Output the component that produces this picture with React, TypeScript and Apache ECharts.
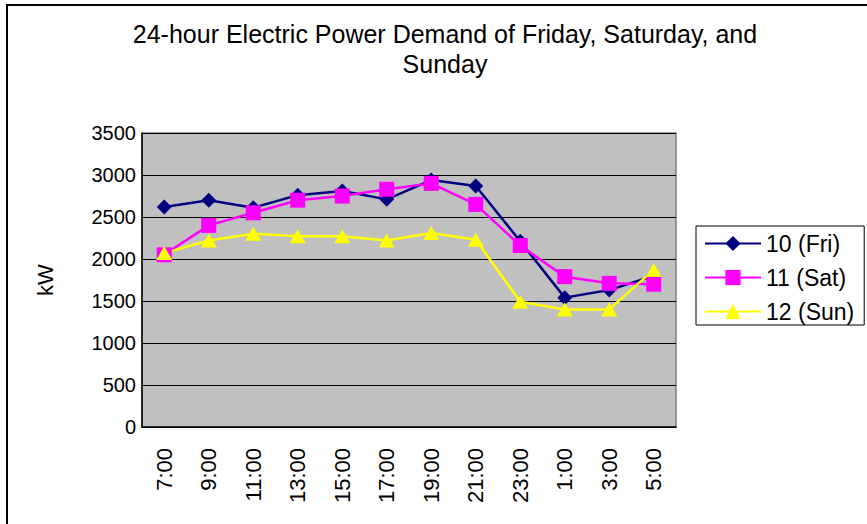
import React, { useEffect, useRef } from "react";
import * as echarts from "echarts";

const categories = ["7:00", "9:00", "11:00", "13:00", "15:00", "17:00", "19:00", "21:00", "23:00", "1:00", "3:00", "5:00"];
const friValues = [2620, 2700, 2610, 2760, 2810, 2710, 2940, 2870, 2210, 1540, 1630, 1800];
const satValues = [2050, 2400, 2550, 2700, 2750, 2830, 2900, 2650, 2160, 1790, 1710, 1700];
const sunValues = [2070, 2220, 2300, 2270, 2270, 2220, 2310, 2230, 1490, 1400, 1400, 1870];
const seriesNames = ["10 (Fri)", "11 (Sat)", "12 (Sun)"];

const FONT = "Liberation Sans, Arial, sans-serif";

export default function App() {
  const ref = useRef<HTMLDivElement>(null);
  useEffect(() => {
    document.body.style.margin = "0";
    const chart = echarts.init(ref.current!, null, { renderer: "svg" });
    chart.setOption({
      animation: false,
      backgroundColor: "#ffffff",
      title: {
        text: "24-hour Electric Power Demand of Friday, Saturday, and\nSunday",
        left: 440,
        top: 14,
        textAlign: "center",
        textStyle: { fontFamily: FONT, fontSize: 25, fontWeight: "normal", color: "#000", lineHeight: 30 },
      },
      graphic: [
        {
          type: "rect",
          shape: { x: 7, y: 5, width: 900, height: 600 },
          style: { fill: "none", stroke: "#000", lineWidth: 2 },
          z: 100,
        },
      ],
      legend: {
        orient: "vertical",
        left: 696,
        top: 226,
        width: 170,
        itemWidth: 56,
        itemHeight: 19,
        itemGap: 11,
        padding: [6, 10, 2, 8],
        borderColor: "#000",
        borderWidth: 1,
        data: seriesNames,
        textStyle: { fontFamily: FONT, fontSize: 23, color: "#000" },
      },
      grid: {
        left: 142,
        top: 133,
        right: 191,
        bottom: 97,
        show: true,
        backgroundColor: "#C0C0C0",
        borderColor: "#808080",
        borderWidth: 1.5,
      },
      xAxis: {
        type: "category",
        data: categories,
        boundaryGap: true,
        axisLine: { lineStyle: { color: "#000", width: 1.5 } },
        axisTick: { inside: true, length: 6, lineStyle: { color: "#000" } },
        axisLabel: { rotate: 90, margin: 21, fontFamily: FONT, fontSize: 22, color: "#000" },
      },
      yAxis: {
        type: "value",
        min: 0,
        max: 3500,
        interval: 500,
        name: "kW",
        nameLocation: "middle",
        nameRotate: 90,
        nameGap: 86,
        nameTextStyle: { fontFamily: FONT, fontSize: 22, color: "#000" },
        axisLine: { show: true, lineStyle: { color: "#000", width: 1.5 } },
        axisTick: { show: true, inside: true, length: 5, lineStyle: { color: "#000" } },
        axisLabel: {
          margin: 6,
          fontFamily: FONT,
          fontSize: 20,
          color: "#000",
          formatter: (v: number) => String(v),
        },
        splitLine: { show: true, lineStyle: { color: "#000", width: 1 } },
      },
      series: [
        {
          name: seriesNames[0],
          type: "line",
          data: friValues,
          symbol: "diamond",
          symbolSize: [15, 15],
          lineStyle: { color: "#000080", width: 2.5 },
          itemStyle: { color: "#000080" },
        },
        {
          name: seriesNames[1],
          type: "line",
          data: satValues,
          symbol: "rect",
          symbolSize: [15, 15],
          lineStyle: { color: "#FF00FF", width: 2.5 },
          itemStyle: { color: "#FF00FF" },
        },
        {
          name: seriesNames[2],
          type: "line",
          data: sunValues,
          symbol: "triangle",
          symbolSize: [16, 14],
          lineStyle: { color: "#FFFF00", width: 2.5 },
          itemStyle: { color: "#FFFF00" },
        },
      ],
    });
    return () => chart.dispose();
  }, []);
  return <div ref={ref} style={{ width: 867, height: 524 }} />;
}
